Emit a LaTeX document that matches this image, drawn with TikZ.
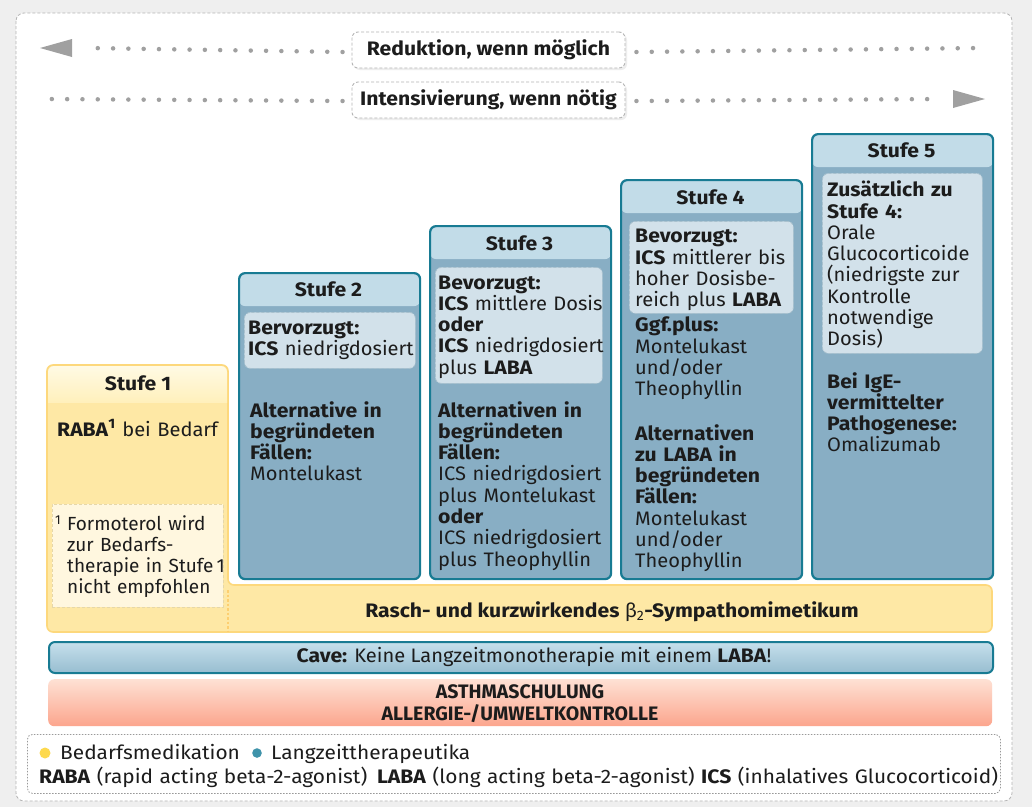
\documentclass[tikz,border=0pt]{standalone}
\usepackage{fontspec}
\setmainfont{Fira Sans}[UprightFeatures={FakeStretch=1.03}, BoldFeatures={FakeStretch=1.085}]
\newfontfamily\capsfont{Fira Sans}
\newfontfamily\legfont{Fira Sans}[UprightFeatures={FakeStretch=1.07}, BoldFeatures={FakeStretch=1.085}]
\usetikzlibrary{arrows.meta}
\definecolor{bggray}{HTML}{EFEFEF}
\definecolor{framec}{HTML}{B5B5B5}
\definecolor{dotc}{HTML}{A0A0A0}
\definecolor{textc}{HTML}{1C1C1C}
\definecolor{blueborder}{HTML}{187B93}
\definecolor{bluebody}{HTML}{88AEC4}
\definecolor{bluehead}{HTML}{C2DCE8}
\definecolor{innerfill}{HTML}{D2E1EA}
\definecolor{innerdash}{HTML}{A9C1CE}
\definecolor{yfill}{HTML}{FEE8A5}
\definecolor{yborder}{HTML}{FDD87C}
\definecolor{yheadtop}{HTML}{FFFAE4}
\definecolor{yheadbot}{HTML}{FFF0BC}
\definecolor{fnfill}{HTML}{FFF7DF}
\definecolor{fndash}{HTML}{E6D7A9}
\definecolor{cavetop}{HTML}{C6E0EC}
\definecolor{cavebot}{HTML}{97BDD0}
\definecolor{astop}{HTML}{FEE1D4}
\definecolor{asbot}{HTML}{FCA58D}
\definecolor{dyellow}{HTML}{FDD94E}
\definecolor{dteal}{HTML}{3F93AA}
\tikzset{
  txt/.style={anchor=base west, align=left, inner sep=0pt, text=textc, text width=250pt},
  headtxt/.style={anchor=base, inner sep=0pt, text=textc, font=\fontsize{19.5}{21.3}\selectfont\bfseries},
  ctxt/.style={anchor=base, inner sep=0pt, text=textc},
  bluebox/.style={draw=blueborder, line width=2.2pt, fill=bluebody, rounded corners=6pt,
     anchor=north west, inner sep=0pt, minimum width=181pt,
     path picture={\fill[bluehead] (path picture bounding box.north west) rectangle ([yshift=-33pt]path picture bounding box.north east);}},
  innerbox/.style={draw=innerdash, dash pattern=on 3pt off 2pt, line width=0.8pt, fill=innerfill,
     rounded corners=6pt, anchor=north west, inner sep=0pt},
  labbox/.style={draw=framec, dash pattern=on 3pt off 2pt, line width=0.9pt, fill=white,
     rounded corners=6pt, inner sep=0pt, minimum width=273pt, minimum height=36pt,
     font=\fontsize{19.5}{21.3}\selectfont\bfseries, text=textc},
  dotline/.style={draw=dotc, line width=4.5pt, line cap=round, dash pattern=on 0pt off 15.3pt},
}
\begin{document}
\begin{tikzpicture}[x=1pt,y=-1pt,font=\fontsize{19.5}{21.3}\selectfont]
\useasboundingbox (0,0) rectangle (1032,807);
\fill[bggray] (0,0) rectangle (1032,807);
\draw[framec, dash pattern=on 3pt off 2pt, line width=0.8pt, fill=white, rounded corners=8pt] (16,13) rectangle (1012,801);

% top arrows
\fill[black!7, rounded corners=6pt] (354,34) rectangle (627,70);
\fill[black!7, rounded corners=6pt] (354,84) rectangle (627,120);
\node[labbox] (red) at (488.5,50) {Reduktion, wenn möglich};
\node[labbox] (int) at (488.5,100) {Intensivierung, wenn nötig};
\coordinate (tipL) at (40,48);
\coordinate (endR) at (980,48);
\coordinate (tipR) at (985,99);
\coordinate (endL) at (47,99);
\draw[dotline] ([xshift=-9pt,yshift=-2pt]red.west) -- ([xshift=48pt]tipL);
\draw[dotline] ([xshift=11pt,yshift=-2pt]red.east) -- (endR);
\fill[dotc] (tipL) -- ++(32,-9) -- ++(0,18) -- cycle;
\draw[dotline] ([xshift=-9pt,yshift=-1pt]int.west) -- (endL);
\draw[dotline] ([xshift=11pt,yshift=-1pt]int.east) -- ([xshift=-44pt]tipR);
\fill[dotc] (tipR) -- ++(-32,-9) -- ++(0,18) -- cycle;

% Stufe 1 and band
\filldraw[fill=yfill, draw=yborder, line width=1.6pt, rounded corners=6pt]
  (47,365) -- (228,365) -- (228,585) -- (992,585) -- (992,632) -- (47,632) -- cycle;
\begin{scope}
\clip[rounded corners=6pt] (48,366) rectangle (227,420);
\shade[top color=yheadtop, bottom color=yheadbot] (48,366) rectangle (227,402);
\end{scope}
\node[headtxt] (h1) at (138,390) {Stufe 1};
\node[txt] (t1) at (57,436) {\textbf{RABA}\textsuperscript{\textbf{1}} bei Bedarf};
\node[draw=fndash, dash pattern=on 3pt off 2pt, line width=0.8pt, fill=fnfill, anchor=north west,
  inner sep=0pt, minimum width=171pt, minimum height=103pt] (fn) at (52,504) {};
\node[anchor=base west, inner sep=0pt, text=textc, font=\fontsize{13}{13}\capsfont] (fn1) at (55,524) {1};
\node[txt, font=\fontsize{19}{21.3}\capsfont] (fnt) at (67,530) {Formoterol wird\\zur Bedarfs-\\therapie in Stufe\,1\\nicht empfohlen};
\draw[yborder!90!orange, line width=1.6pt, dash pattern=on 2.5pt off 2pt] (228,590) -- (228,631);
\node[ctxt] (band) at (612,617) {\textbf{Rasch- und kurzwirkendes} β\textsubscript{2}\textbf{-Sympathomimetikum}};

% Stufe 2-5 boxes
\node[bluebox, minimum height=306pt] (s2) at (238,272) {};
\node[bluebox, minimum height=353pt] (s3) at (429,225) {};
\node[bluebox, minimum height=399pt] (s4) at (620,179) {};
\node[bluebox, minimum height=445pt] (s5) at (811,133) {};
\node[headtxt] (h2) at (328.5,296.5) {Stufe 2};
\node[headtxt] (h3) at (519.5,250) {Stufe 3};
\node[headtxt] (h4) at (710.5,204) {Stufe 4};
\node[headtxt] (h5) at (901.5,157.5) {Stufe 5};

\node[innerbox, minimum width=171pt, minimum height=56pt] (i2) at (244,312) {};
\node[innerbox, minimum width=167pt, minimum height=116pt] (i3) at (435,267) {};
\node[innerbox, minimum width=164pt, minimum height=92pt] (i4) at (629,221) {};
\node[innerbox, minimum width=160pt, minimum height=180pt] (i5) at (822,173) {};

\node[txt] (t2a) at (248,334) {\textbf{Bervorzugt:}\\\textbf{ICS} niedrigdosiert};
\node[txt] (t2b) at (250,417) {\textbf{Alternative in}\\\textbf{begründeten}\\\textbf{Fällen:}\\Montelukast};

\node[txt] (t3a) at (438,289) {\textbf{Bevorzugt:}\\\textbf{ICS} mittlere Dosis\\\textbf{oder}\\\textbf{ICS} niedrigdosiert\\plus \textbf{LABA}};
\node[txt] (t3b) at (438,417) {\textbf{Alternativen in}\\\textbf{begründeten}\\\textbf{Fällen:}\\ICS niedrigdosiert\\plus Montelukast\\\textbf{oder}\\ICS niedrigdosiert\\plus Theophyllin};

\node[txt] (t4a) at (635,242.7) {\textbf{Bevorzugt:}\\\textbf{ICS} mittlerer bis\\hoher Dosisbe-\\reich plus \textbf{LABA}};
\node[txt] (t4b) at (635,331.7) {\textbf{Ggf.plus:}\\Montelukast\\und/oder\\Theophyllin};
\node[txt] (t4c) at (635,440) {\textbf{Alternativen}\\\textbf{zu LABA in}\\\textbf{begründeten}\\\textbf{Fällen:}\\Montelukast\\und/oder\\Theophyllin};

\node[txt] (t5a) at (827,196.7) {\textbf{Zusätzlich zu}\\\textbf{Stufe 4:}\\Orale\\Glucocorticoide\\(niedrigste zur\\Kontrolle\\notwendige\\Dosis)};
\node[txt] (t5b) at (827,388) {\textbf{Bei IgE-}\\\textbf{vermittelter}\\\textbf{Pathogenese:}\\Omalizumab};

% Cave
\node[draw=blueborder, line width=2pt, rounded corners=6pt, top color=cavetop, bottom color=cavebot,
  anchor=north west, inner sep=0pt, minimum width=944pt, minimum height=31pt] (cave) at (48,641) {};
\node[ctxt] (cavet) at (534,662) {\textbf{Cave:} Keine Langzeitmonotherapie mit einem \textbf{LABA}!};

% Asthma
\node[rounded corners=6pt, top color=astop, bottom color=asbot,
  anchor=north west, inner sep=0pt, minimum width=944pt, minimum height=47pt] (asth) at (48,679) {};
\node[ctxt, font=\fontsize{19.5}{21.3}\capsfont\bfseries] (asthtx) at (520,698) {ASTHMASCHULUNG};
\node[ctxt, font=\fontsize{19.5}{21.3}\capsfont\bfseries] (allerg) at (520,720) {ALLERGIE-/UMWELTKONTROLLE};

% legend
\node[draw=gray!80, dash pattern=on 1.5pt off 1.5pt, line width=0.8pt, fill=white, rounded corners=5pt,
  anchor=north west, inner sep=0pt, minimum width=973pt, minimum height=59pt] (leg) at (27,734) {};
\fill[dyellow] (45,753) circle[radius=5.5pt];
\fill[dteal] (257,753) circle[radius=4.8pt];
\node[txt, font=\fontsize{19.5}{21.3}\legfont] (lg1) at (60,759) {Bedarfsmedikation};
\node[txt, font=\fontsize{19.5}{21.3}\legfont] (lg2) at (271,759) {Langzeittherapeutika};
\node[txt, text width=1000pt, font=\fontsize{19.5}{21.3}\legfont] (lg3) at (39,783) {\textbf{RABA} (rapid acting beta-2-agonist)\enspace\textbf{LABA} (long acting beta-2-agonist) \textbf{ICS} (inhalatives Glucocorticoid)};
\end{tikzpicture}
\end{document}
